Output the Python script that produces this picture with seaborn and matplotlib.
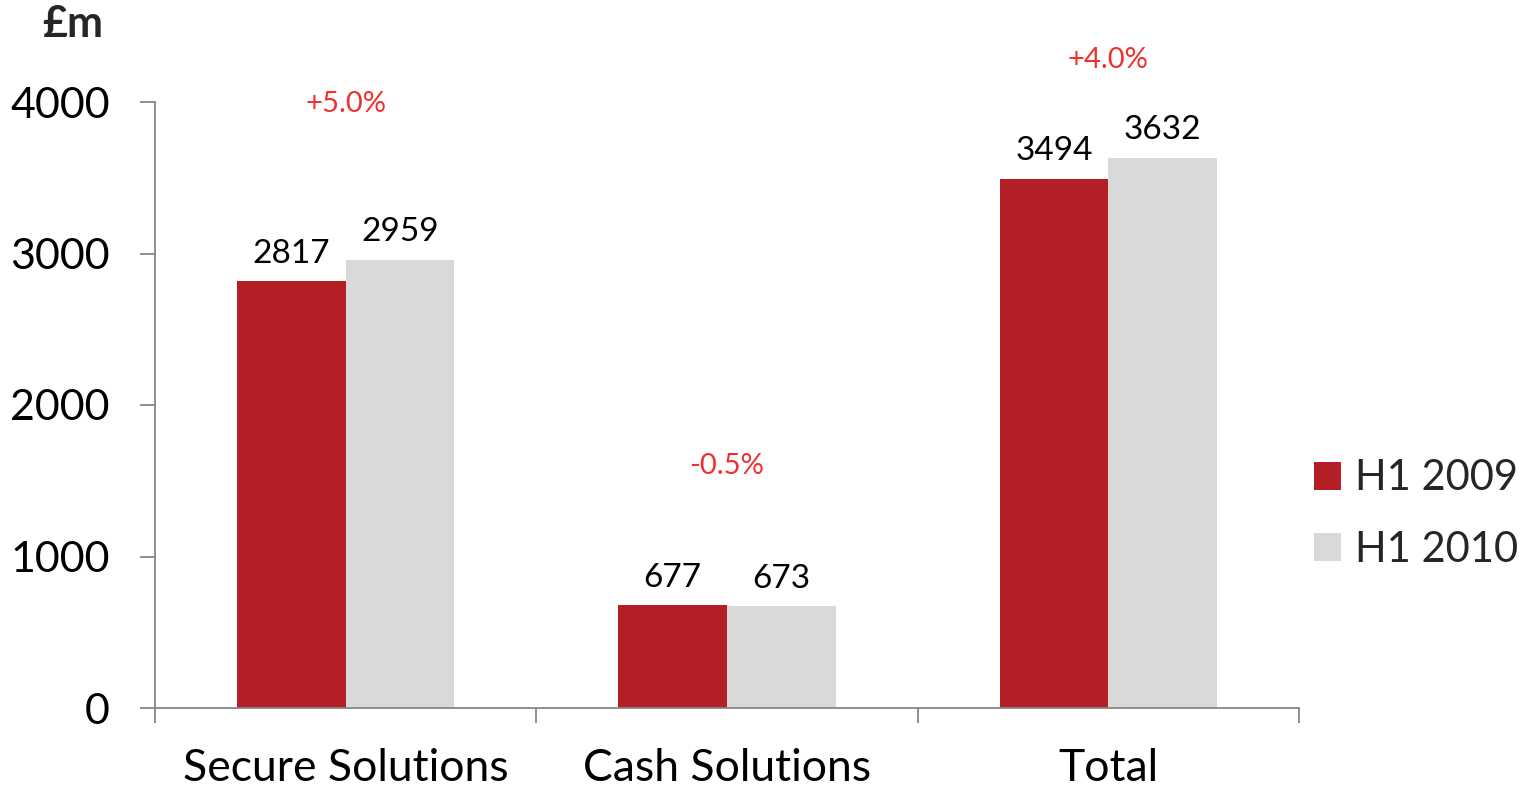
import matplotlib
matplotlib.use("Agg")
import matplotlib.pyplot as plt
import seaborn as sns
import pandas as pd

categories = ["Secure Solutions", "Cash Solutions", "Total"]
series_names = ["H1 2009", "H1 2010"]
h1_2009 = [2817, 677, 3494]
h1_2010 = [2959, 673, 3632]
pct_labels = ["+5.0%", "-0.5%", "+4.0%"]
pct_label_y = [3985, 1600, 4280]
y_ticks = [0, 1000, 2000, 3000, 4000]

colors = ["#B31F25", "#D9D9D9"]

sns.set_theme(style="ticks")
plt.rcParams["font.family"] = ["Lato", "DejaVu Sans"]

df = pd.DataFrame({
    "category": categories * 2,
    "series": [series_names[0]] * 3 + [series_names[1]] * 3,
    "value": h1_2009 + h1_2010,
})

fig = plt.figure(figsize=(15.23, 7.90), dpi=100)
ax = fig.add_axes([155 / 1523, 1 - 708 / 790, (1299 - 155) / 1523, (708 - 102) / 790])

sns.barplot(data=df, x="category", y="value", hue="series", palette=colors,
            width=0.57, saturation=1, ax=ax, linewidth=0, errorbar=None)

ax.set_ylim(0, 4000)
ax.set_xlim(-0.5, 2.5)
ax.set_yticks(y_ticks)
ax.set_yticklabels([str(t) for t in y_ticks], fontsize=31, color="black")

ax.set_xticks([-0.5, 0.5, 1.5, 2.5])
ax.set_xticklabels([])
ax.set_xticks([0, 1, 2], minor=True)
ax.set_xticklabels(categories, minor=True, fontsize=32, color="black")
ax.tick_params(axis="x", which="minor", bottom=False, length=0, pad=29)
ax.tick_params(axis="x", which="major", bottom=True, length=10.5, width=1.3,
               color="#868686", direction="out")
ax.tick_params(axis="y", left=True, length=10.5, width=1.3, color="#868686",
               direction="out", pad=22)

for s in ["top", "right"]:
    ax.spines[s].set_visible(False)
for s in ["left", "bottom"]:
    ax.spines[s].set_color("#868686")
    ax.spines[s].set_linewidth(1.3)

ax.set_xlabel("")
ax.set_ylabel("")
ax.grid(False)

for cont in ax.containers:
    ax.bar_label(cont, fmt="%d", fontsize=24, padding=9, color="black")

for i, (lab, yy) in enumerate(zip(pct_labels, pct_label_y)):
    ax.text(i, yy, lab, ha="center", va="center", fontsize=21, color="#F03030", clip_on=False)

fig.text(42 / 1523, 1 - 24 / 790, "£m", fontsize=31, fontweight="bold", ha="left", va="center")

ax.legend(loc="center left", bbox_to_anchor=(1314 / 1523, 1 - 514 / 790),
          bbox_transform=fig.transFigure, frameon=False, fontsize=30,
          handlelength=0.65, handleheight=0.65, handletextpad=0.33,
          labelspacing=0.8, borderpad=0, borderaxespad=0, title=None)

fig.savefig("out.png", dpi=100)
